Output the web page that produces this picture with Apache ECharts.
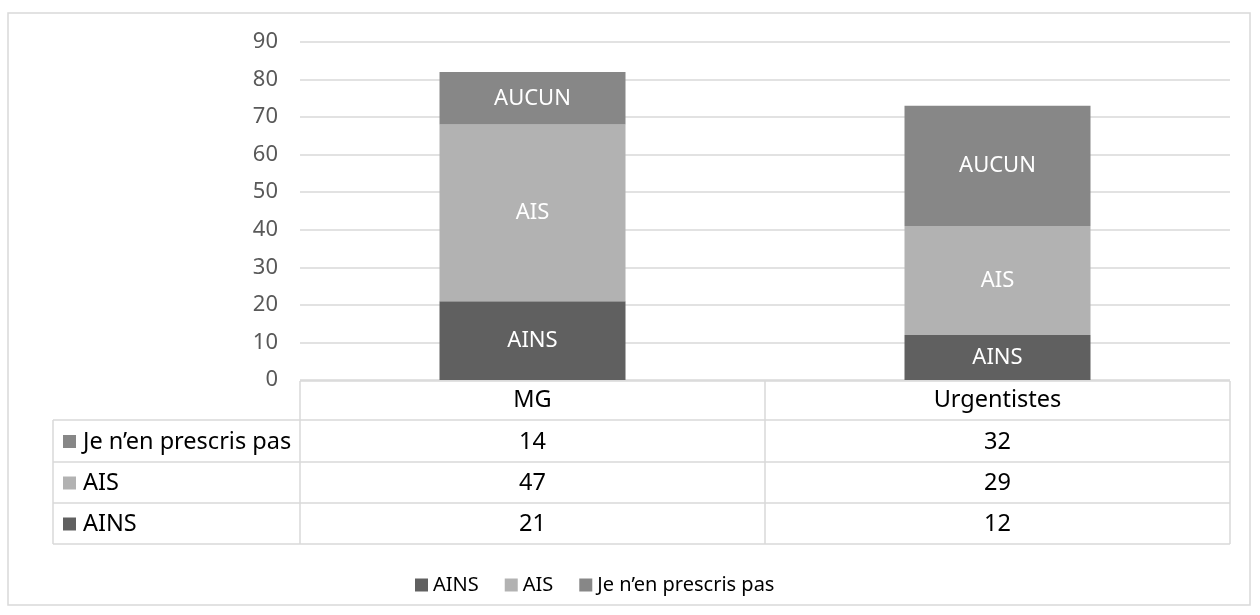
<!DOCTYPE html>
<html>
<head>
<meta charset="utf-8">
<script src="https://cdn.jsdelivr.net/npm/echarts@6/dist/echarts.min.js"></script>
<style>
  html, body { margin: 0; padding: 0; background: #fff; }
  #main { width: 1260px; height: 615px; }
</style>
</head>
<body>
<div id="main"></div>
<script>
// data
const categories = ['MG', 'Urgentistes'];
const seriesNames = ['AINS', 'AIS', 'Je n’en prescris pas'];
const barLabels = ['AINS', 'AIS', 'AUCUN'];
const ains = [21, 12];
const ais = [47, 29];
const aucun = [14, 32];
const colors = ['#606060', '#b2b2b2', '#878787'];

const values = [ains, ais, aucun];
const font = '"Noto Sans", "Open Sans", sans-serif';
const tableSize = 23.5;

let myChart = echarts.init(document.getElementById('main'));

// table drawn under the plot (rows in reverse order like Excel)
const tL = 53, tC1 = 300, tC2 = 765, tR = 1230;
const rowY = [381, 420, 462, 503, 544];
const lineStyle = { stroke: '#d9d9d9', lineWidth: 1.5 };
let graphics = [];
// outer frame
graphics.push({ type: 'rect', shape: { x: 8, y: 13, width: 1242, height: 592 }, style: { fill: null, stroke: '#d9d9d9', lineWidth: 1.5 }, silent: true });
// horizontal lines
graphics.push({ type: 'line', shape: { x1: tC1, y1: rowY[0], x2: tR, y2: rowY[0] }, style: lineStyle });
for (let i = 1; i < rowY.length; i++) {
  graphics.push({ type: 'line', shape: { x1: tL, y1: rowY[i], x2: tR, y2: rowY[i] }, style: lineStyle });
}
// vertical lines
graphics.push({ type: 'line', shape: { x1: tL, y1: rowY[1], x2: tL, y2: rowY[4] }, style: lineStyle });
[tC1, tC2, tR].forEach(x => {
  graphics.push({ type: 'line', shape: { x1: x, y1: rowY[0], x2: x, y2: rowY[4] }, style: lineStyle });
});
// rows
for (let r = 0; r < 3; r++) {
  const s = 2 - r;
  const yTop = rowY[r + 1], yBot = rowY[r + 2];
  const yMid = (yTop + yBot) / 2;
  graphics.push({ type: 'rect', shape: { x: 63, y: yMid - 6, width: 13, height: 13 }, style: { fill: colors[s] } });
  graphics.push({ type: 'text', x: 83, y: yMid + 1, style: { text: seriesNames[s], fill: '#000', fontSize: tableSize, fontFamily: font, verticalAlign: 'middle' } });
  for (let c = 0; c < categories.length; c++) {
    const cx = c === 0 ? (tC1 + tC2) / 2 : (tC2 + tR) / 2;
    graphics.push({ type: 'text', x: cx, y: yMid + 1, style: { text: String(values[s][c]), fill: '#000', fontSize: tableSize, fontFamily: font, align: 'center', verticalAlign: 'middle' } });
  }
}

let option = {
  animation: false,
  textStyle: { fontFamily: font },
  grid: { left: 300, right: 30, top: 42, bottom: 235 },
  legend: {
    data: seriesNames,
    top: 570,
    left: 410,
    itemWidth: 13,
    itemHeight: 13,
    itemGap: 26,
    icon: 'rect',
    textStyle: { fontSize: 20, color: '#000', fontFamily: font }
  },
  xAxis: {
    type: 'category',
    data: categories,
    axisLine: { show: false },
    axisTick: { show: false },
    axisLabel: { color: '#000', fontSize: tableSize, margin: 8 }
  },
  yAxis: {
    type: 'value',
    min: 0,
    max: 90,
    interval: 10,
    axisLine: { show: false },
    axisTick: { show: false },
    axisLabel: { color: '#595959', fontSize: 22, margin: 22 },
    splitLine: { lineStyle: { color: '#d9d9d9', width: 1.5 } }
  },
  series: seriesNames.map((name, i) => ({
    name: name,
    type: 'bar',
    stack: 'total',
    data: values[i],
    barWidth: '40%',
    itemStyle: { color: colors[i] },
    label: {
      show: true,
      position: 'inside',
      color: '#fff',
      fontSize: 22,
      fontFamily: font,
      formatter: () => barLabels[i]
    }
  })),
  graphic: graphics
};

myChart.setOption(option);
</script>
</body>
</html>
